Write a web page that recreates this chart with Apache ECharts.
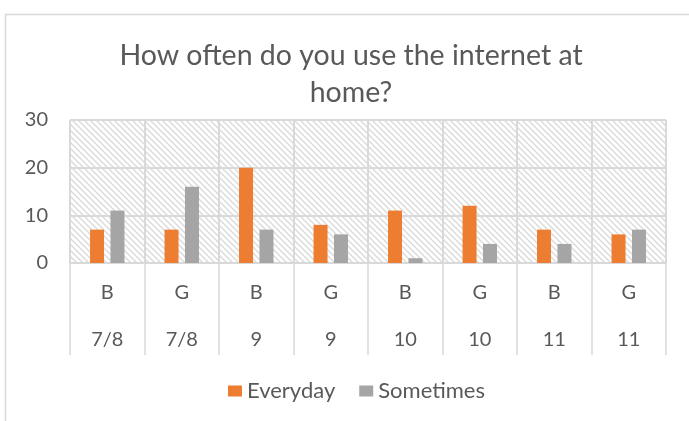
<!DOCTYPE html>
<html>
<head>
<meta charset="utf-8">
<script src="https://cdn.jsdelivr.net/npm/echarts@6/dist/echarts.min.js"></script>
<style>
  html, body { margin: 0; padding: 0; background: #fff; }
  #main { width: 689px; height: 421px; }
</style>
</head>
<body>
<div id="main"></div>
<script>
// data
var genders = ['B', 'G', 'B', 'G', 'B', 'G', 'B', 'G'];
var grades = ['7/8', '7/8', '9', '9', '10', '10', '11', '11'];
var everyday = [7, 7, 20, 8, 11, 12, 7, 6];
var sometimes = [11, 16, 7, 6, 1, 4, 4, 7];
var yTicks = [0, 10, 20, 30];

var categories = genders.map(function (g, i) { return g + '\n' + grades[i]; });

// hatched plot background, like the excel "wide downward diagonal" fill
function hatch() {
    var c = document.createElement('canvas');
    c.width = 6; c.height = 6;
    var ctx = c.getContext('2d');
    ctx.fillStyle = '#ffffff';
    ctx.fillRect(0, 0, 6, 6);
    ctx.strokeStyle = '#dadada';
    ctx.lineWidth = 1.4;
    ctx.beginPath();
    ctx.moveTo(-1, -1); ctx.lineTo(7, 7);
    ctx.moveTo(-4, 2); ctx.lineTo(4, 10);
    ctx.moveTo(2, -4); ctx.lineTo(10, 4);
    ctx.stroke();
    return c;
}

var font = 'Lato, "Open Sans", sans-serif';
var textGrey = '#595959';
var lineGrey = '#d9d9d9';

var myChart = echarts.init(document.getElementById('main'));
var option = {
    animation: false,
    title: {
        text: 'How often do you use the internet at\nhome?',
        left: 351,
        top: 37,
        padding: 0,
        textAlign: 'center',
        textStyle: {
            fontFamily: font,
            fontSize: 28.5,
            fontWeight: 'normal',
            color: textGrey,
            lineHeight: 37
        }
    },
    graphic: [{
        type: 'rect',
        shape: { x: 5.5, y: 14.5, width: 760, height: 460 },
        style: { fill: 'none', stroke: lineGrey, lineWidth: 1.5 },
        silent: true
    }],
    legend: {
        data: ['Everyday', 'Sometimes'],
        bottom: 14,
        left: 223,
        itemWidth: 14,
        itemHeight: 11,
        itemGap: 24,
        icon: 'rect',
        textStyle: { fontFamily: font, fontSize: 22, color: textGrey }
    },
    grid: {
        left: 70,
        right: 23,
        top: 120,
        bottom: 158,
        show: true,
        borderWidth: 0,
        backgroundColor: { image: hatch(), repeat: 'repeat' }
    },
    xAxis: {
        type: 'category',
        data: categories,
        axisLine: { show: true, lineStyle: { color: lineGrey, width: 1.5 } },
        axisTick: { show: true, interval: 0, length: 92, lineStyle: { color: lineGrey, width: 1.5 } },
        splitLine: { show: true, interval: 0, lineStyle: { color: lineGrey, width: 2 } },
        axisLabel: {
            interval: 0,
            margin: 6,
            fontFamily: font,
            fontSize: 20,
            color: textGrey,
            lineHeight: 47
        }
    },
    yAxis: {
        type: 'value',
        min: yTicks[0],
        max: yTicks[yTicks.length - 1],
        interval: 10,
        axisLine: { show: false },
        axisTick: { show: false },
        splitLine: { show: true, lineStyle: { color: lineGrey, width: 2 } },
        axisLabel: { margin: 22, fontFamily: font, fontSize: 20, color: textGrey }
    },
    series: [
        {
            name: 'Everyday',
            type: 'bar',
            barWidth: 14,
            barGap: '46%',
            itemStyle: { color: '#ED7D31' },
            data: everyday
        },
        {
            name: 'Sometimes',
            type: 'bar',
            barWidth: 14,
            itemStyle: { color: '#A5A5A5' },
            data: sometimes
        }
    ]
};
myChart.setOption(option);
</script>
</body>
</html>
